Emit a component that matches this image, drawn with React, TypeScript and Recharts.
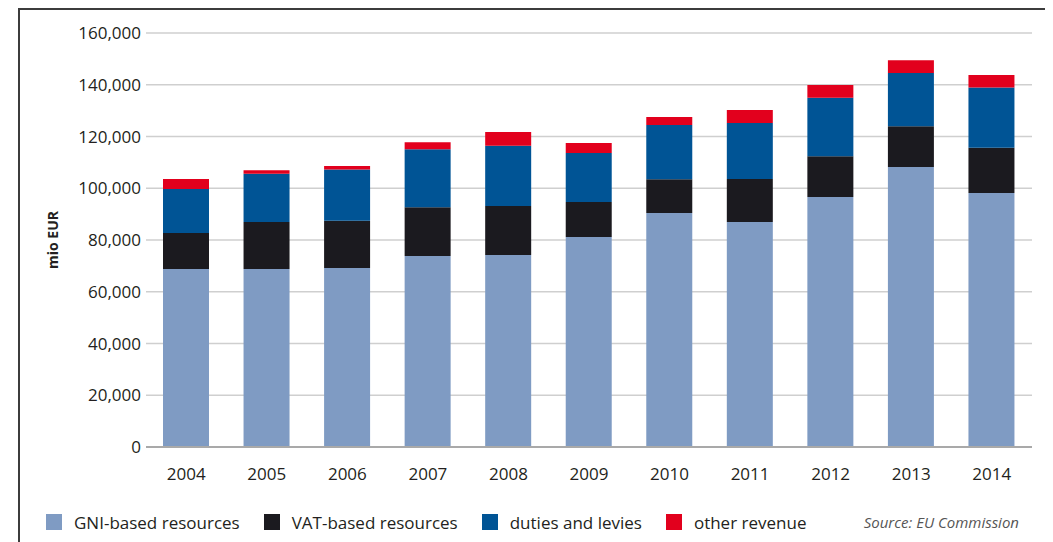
import { BarChart, Bar, XAxis, YAxis, CartesianGrid } from "recharts";

const years = ["2004", "2005", "2006", "2007", "2008", "2009", "2010", "2011", "2012", "2013", "2014"];
const gniBased = [68800, 68800, 69200, 73800, 74200, 81200, 90400, 87000, 96600, 108200, 98200];
const vatBased = [13900, 18200, 18200, 18900, 18900, 13500, 13100, 16600, 15800, 15800, 17500];
const dutiesLevies = [17000, 18600, 19800, 22400, 23300, 18900, 20900, 21600, 22600, 20500, 23200];
const otherRevenue = [3900, 1400, 1400, 2700, 5300, 3900, 3100, 5000, 4900, 5000, 4900];
const yTicks = [0, 20000, 40000, 60000, 80000, 100000, 120000, 140000, 160000];

const series = [
  { key: "gni", name: "GNI-based resources", color: "#7f9bc3" },
  { key: "vat", name: "VAT-based resources", color: "#1b1a1f" },
  { key: "duties", name: "duties and levies", color: "#005495" },
  { key: "other", name: "other revenue", color: "#e2001d" },
];

const data = years.map((year, i) => ({
  year,
  gni: gniBased[i],
  vat: vatBased[i],
  duties: dutiesLevies[i],
  other: otherRevenue[i],
}));

const FONT = "'Open Sans', sans-serif";
const TEXT = "#231f20";

const YLabel = ({ viewBox }: any) => {
  const x = viewBox.x + 44;
  const y = viewBox.y + viewBox.height / 2;
  return (
    <text
      x={x}
      y={y}
      transform={`rotate(-90, ${x}, ${y})`}
      textAnchor="middle"
      dominantBaseline="central"
      fontFamily={FONT}
      fontSize={14}
      fontWeight={700}
      fill={TEXT}
    >
      mio EUR
    </text>
  );
};

export default function App() {
  return (
    <div style={{ position: "relative", width: 1037, height: 534, overflow: "hidden", fontFamily: FONT }}>
      <div
        style={{
          position: "absolute",
          left: 10,
          top: 0,
          width: 1030,
          height: 600,
          border: "2px solid #3c3c3c",
          boxSizing: "border-box",
        }}
      />
      <div style={{ position: "absolute", left: 0, top: 0 }}>
        <BarChart
          width={1037}
          height={534}
          data={data}
          margin={{ top: 25, right: 13, left: 0, bottom: 65 }}
          barSize={46}
        >
          <CartesianGrid vertical={false} stroke="#cfcfcf" strokeWidth={1.5} />
          <XAxis
            dataKey="year"
            height={30}
            tickLine={false}
            tickSize={0}
            tickMargin={21}
            axisLine={{ stroke: "#a9a9a9", strokeWidth: 2 }}
            tick={{ fontFamily: FONT, fontSize: 17, fill: TEXT }}
          />
          <YAxis
            width={138}
            domain={[0, 160000]}
            ticks={yTicks}
            tickLine={false}
            tickSize={0}
            tickMargin={5}
            axisLine={false}
            tickFormatter={(v: number) => v.toLocaleString("en-US")}
            tick={{ fontFamily: FONT, fontSize: 17, fill: TEXT }}
            label={<YLabel />}
          />
          {series.map((s) => (
            <Bar
              key={s.key}
              dataKey={s.key}
              name={s.name}
              stackId="a"
              fill={s.color}
              isAnimationActive={false}
            />
          ))}
        </BarChart>
      </div>
      <div
        style={{
          position: "absolute",
          left: 38,
          top: 503,
          width: 973,
          height: 22,
          display: "flex",
          alignItems: "center",
          fontSize: 17,
          color: TEXT,
        }}
      >
        {series.map((s) => (
          <div key={s.key} style={{ display: "flex", alignItems: "center", marginRight: 24 }}>
            <span style={{ width: 16, height: 16, background: s.color, marginRight: 12, flexShrink: 0 }} />
            <span>{s.name}</span>
          </div>
        ))}
        <span style={{ marginLeft: "auto", fontStyle: "italic", fontSize: 15, color: "#555" }}>
          Source: EU Commission
        </span>
      </div>
    </div>
  );
}
